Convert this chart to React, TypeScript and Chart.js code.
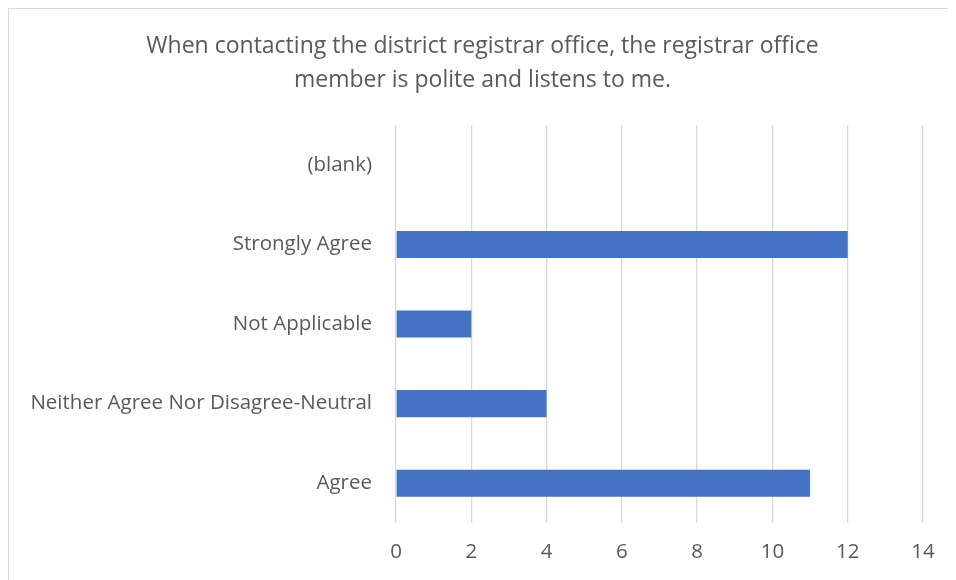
import React, { useEffect, useRef } from "react";
import { Chart, registerables } from "chart.js";

Chart.register(...registerables);

const categories = [
  "(blank)",
  "Strongly Agree",
  "Not Applicable",
  "Neither Agree Nor Disagree-Neutral",
  "Agree",
];
const counts: (number | null)[] = [null, 12, 2, 4, 11];
const titleLines = [
  "When contacting the district registrar office, the registrar office",
  "member is polite and listens to me.",
];
const xMin = 0;
const xMax = 14;
const xStep = 2;

const FONT = "'Open Sans', 'Noto Sans', sans-serif";
const TEXT = "#595959";

export default function App() {
  const ref = useRef<HTMLCanvasElement | null>(null);

  useEffect(() => {
    document.body.style.overflow = "hidden";
    if (!ref.current) return;
    const chart = new Chart(ref.current, {
      type: "bar",
      data: {
        labels: categories,
        datasets: [
          {
            data: counts,
            backgroundColor: "#4472C4",
            borderWidth: 0,
            barPercentage: 0.34,
            categoryPercentage: 1,
          },
        ],
      },
      options: {
        indexAxis: "y",
        animation: false,
        responsive: true,
        maintainAspectRatio: false,
        layout: { padding: 0 },
        plugins: {
          legend: { display: false },
          tooltip: { enabled: false },
          title: {
            display: true,
            text: titleLines,
            color: TEXT,
            font: { family: FONT, size: 23, weight: "normal", lineHeight: 1.48 },
            padding: { top: 20, bottom: 28 },
          },
        },
        scales: {
          x: {
            min: xMin,
            max: xMax,
            ticks: {
              stepSize: xStep,
              color: TEXT,
              font: { family: FONT, size: 20.5 },
              padding: 17,
            },
            grid: { color: "#D9D9D9", lineWidth: 1.3, drawTicks: false },
            border: { display: false },
            afterFit: (scale: any) => {
              scale.height = 57;
            },
          },
          y: {
            ticks: {
              color: TEXT,
              font: { family: FONT, size: 20.5 },
              padding: 24,
            },
            grid: { display: false, drawTicks: false },
            border: { display: false },
            afterFit: (scale: any) => {
              scale.width = 387;
            },
          },
          spacer: {
            type: "linear",
            position: "right",
            display: true,
            ticks: { display: false },
            grid: { display: false, drawTicks: false },
            border: { display: false },
            afterFit: (scale: any) => {
              scale.width = 33;
            },
          },
        },
      },
    });
    return () => chart.destroy();
  }, []);

  return (
    <div
      style={{
        width: 948,
        height: 572,
        borderLeft: "1px solid #D9D9D9",
        borderTop: "1px solid #D9D9D9",
        boxSizing: "border-box",
        background: "#fff",
        position: "relative",
      }}
    >
      <canvas ref={ref} />
    </div>
  );
}
